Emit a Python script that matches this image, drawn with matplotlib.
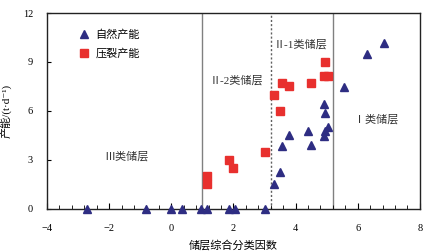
import matplotlib
matplotlib.use("Agg")
import matplotlib.pyplot as plt

plt.rcParams['font.family'] = ['Liberation Serif', 'Noto Sans CJK SC', 'DejaVu Sans']

# natural productivity (triangles)
nat_x = [-2.7, -0.8, 0.0, 0.35, 0.95, 1.15, 1.85, 2.05, 3.0,
         3.3, 3.5, 3.55, 3.8, 4.4, 4.5, 4.9, 4.95, 5.05, 4.95, 4.9, 5.55, 6.3, 6.85]
nat_y = [0, 0, 0, 0, 0, 0, 0, 0, 0,
         1.5, 2.25, 3.85, 4.55, 4.75, 3.9, 4.45, 4.75, 5.0, 5.85, 6.45, 7.45, 9.5, 10.15]
# fracturing productivity (squares)
frac_x = [1.15, 1.15, 1.85, 2.0, 3.0, 3.3, 3.5, 3.55, 3.8, 4.5, 4.9, 5.05, 4.95]
frac_y = [1.5, 2.0, 3.0, 2.5, 3.5, 7.0, 6.0, 7.7, 7.5, 7.7, 8.15, 8.15, 9.0]

boundaries = [1.0, 3.2, 5.2]
region_labels = ["Ⅲ类储层", "Ⅱ-2类储层", "Ⅱ-1类储层", "Ⅰ类储层"]
region_pos = [(-1.45, 3.2), (2.1, 7.9), (4.15, 10.05), (6.6, 5.5)]

fig = plt.figure(figsize=(4.25, 2.52), dpi=100)
ax = fig.add_axes([0.1106, 0.172, 0.8774, 0.776])

ax.axvline(boundaries[0], color='#808080', lw=1.0, zorder=1)
ax.axvline(boundaries[1], color='#606060', lw=1.0, ls=(0, (1.5, 1.5)), zorder=1)
ax.axvline(boundaries[2], color='#808080', lw=1.0, zorder=1)

ax.plot(nat_x, nat_y, ls='none', marker='^', color='#2e2d82', markersize=6, label='自然产能', zorder=3, clip_on=False)
ax.plot(frac_x, frac_y, ls='none', marker='s', color='#e8302e', markersize=5.5, label='压裂产能', zorder=3, clip_on=False)

for t, (x, y) in zip(region_labels, region_pos):
    ax.text(x, y, t, ha='center', va='center', fontsize=8, color='#333333',
            family=['Liberation Serif', 'Noto Sans CJK SC'])

ax.set_xlim(-4, 8)
ax.set_ylim(0, 12)
ax.set_xticks([-4, -2, 0, 2, 4, 6, 8])
ax.set_xticks([-4 + 0.4 * i for i in range(31)], minor=True)
ax.set_yticks([0, 3, 6, 9, 12])
ax.tick_params(axis='both', which='both', direction='in', labelsize=7.5)
ax.tick_params(axis='x', which='major', length=4, pad=11)
ax.tick_params(axis='x', which='minor', length=3)
ax.tick_params(axis='y', length=3, pad=10)
for s in ax.spines.values():
    s.set_linewidth(1.0)
    s.set_color('#222222')

ax.set_xlabel('储层综合分类因数', fontsize=8, labelpad=5)
ax.set_ylabel('产能/(t·d⁻¹)', fontsize=8, labelpad=8)

leg = ax.legend(loc='upper left', frameon=False, fontsize=8, handletextpad=0.4,
                handlelength=1.2, borderaxespad=0.0, bbox_to_anchor=(0.07, 0.94),
                labelspacing=0.75)

fig.savefig('out.png', dpi=100)
